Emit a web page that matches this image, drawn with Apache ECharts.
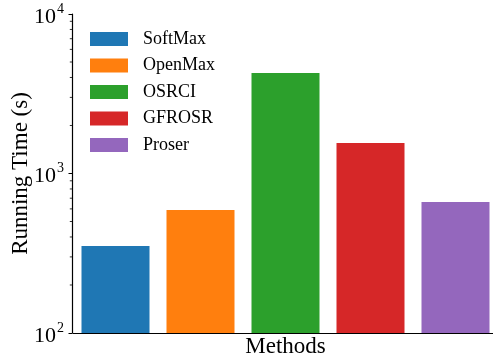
<!DOCTYPE html>
<html>
<head>
<meta charset="utf-8">
<script src="https://cdn.jsdelivr.net/npm/echarts@6/dist/echarts.min.js"></script>
<style>
html,body{margin:0;padding:0;background:#fff;}
#chart{width:493px;height:360px;}
</style>
</head>
<body>
<div id="chart"></div>
<script>
// Running time per open-set recognition method (seconds, log scale)
const methods = ['SoftMax', 'OpenMax', 'OSRCI', 'GFROSR', 'Proser'];
const runTimes = [351, 590, 4266, 1552, 662];
const colors = ['#1f77b4', '#ff7f0e', '#2ca02c', '#d62728', '#9467bd'];
// minor tick positions between the decades
const minorTicks = [200, 300, 400, 500, 600, 700, 800, 900, 2000, 3000, 4000, 5000, 6000, 7000, 8000, 9000];

const FONT = "'Liberation Serif', 'Times New Roman', serif";

const chart = echarts.init(document.getElementById('chart'), null, {renderer: 'canvas'});

const barSeries = methods.map((m, i) => ({
  name: m,
  type: 'bar',
  barWidth: '80%',
  barGap: '-100%',
  itemStyle: {color: colors[i]},
  data: methods.map((_, j) => (j === i ? runTimes[i] : '-'))
}));

const minorTickSeries = {
  type: 'custom',
  silent: true,
  clip: false,
  legendHoverLink: false,
  data: minorTicks.map(v => [0, v]),
  encode: {x: 0, y: 1},
  renderItem: function (params, api) {
    const p = api.coord([0, api.value(1)]);
    const x0 = params.coordSys.x - 1;
    return {
      type: 'line',
      shape: {x1: x0 - 2.2, y1: p[1], x2: x0, y2: p[1]},
      style: {stroke: '#000', lineWidth: 0.8}
    };
  }
};

chart.setOption({
  animation: false,
  textStyle: {fontFamily: FONT},
  grid: {left: 73, right: -5, top: 14, bottom: 27, containLabel: false, outerBoundsMode: 'none'},
  legend: {
    orient: 'vertical',
    left: 90,
    top: 30,
    padding: 0,
    itemWidth: 38,
    itemHeight: 14,
    itemGap: 8.5,
    icon: 'rect',
    textStyle: {fontFamily: FONT, fontSize: 18, color: '#000', padding: [0, 0, 0, 10]},
    data: methods
  },
  xAxis: {
    type: 'category',
    data: methods,
    name: 'Methods',
    nameLocation: 'middle',
    nameGap: 2,
    nameMoveOverlap: false,
    nameTextStyle: {fontFamily: FONT, fontSize: 23, color: '#000'},
    axisLine: {lineStyle: {color: '#000', width: 1.2}},
    axisTick: {show: false},
    axisLabel: {show: false}
  },
  yAxis: {
    type: 'log',
    logBase: 10,
    min: 100,
    max: 10000,
    offset: 1,
    name: 'Running Time (s)',
    nameLocation: 'middle',
    nameGap: 40,
    nameMoveOverlap: false,
    nameTextStyle: {fontFamily: FONT, fontSize: 23, color: '#000'},
    axisLine: {show: true, lineStyle: {color: '#000', width: 1.2}},
    axisTick: {show: true, length: 3.5, lineStyle: {color: '#000', width: 1}},
    splitLine: {show: false},
    axisLabel: {
      margin: 8,
      formatter: function (v) {
        const e = Math.round(Math.log10(v));
        return '{b|10}{s|' + e + '}';
      },
      rich: {
        b: {fontFamily: FONT, fontSize: 22, color: '#000', verticalAlign: 'bottom', padding: [6, 0, 0, 0]},
        s: {fontFamily: FONT, fontSize: 14, color: '#000', verticalAlign: 'bottom', padding: [0, 0, 12, 1]}
      }
    }
  },
  series: barSeries.concat([minorTickSeries])
});
</script>
</body>
</html>
